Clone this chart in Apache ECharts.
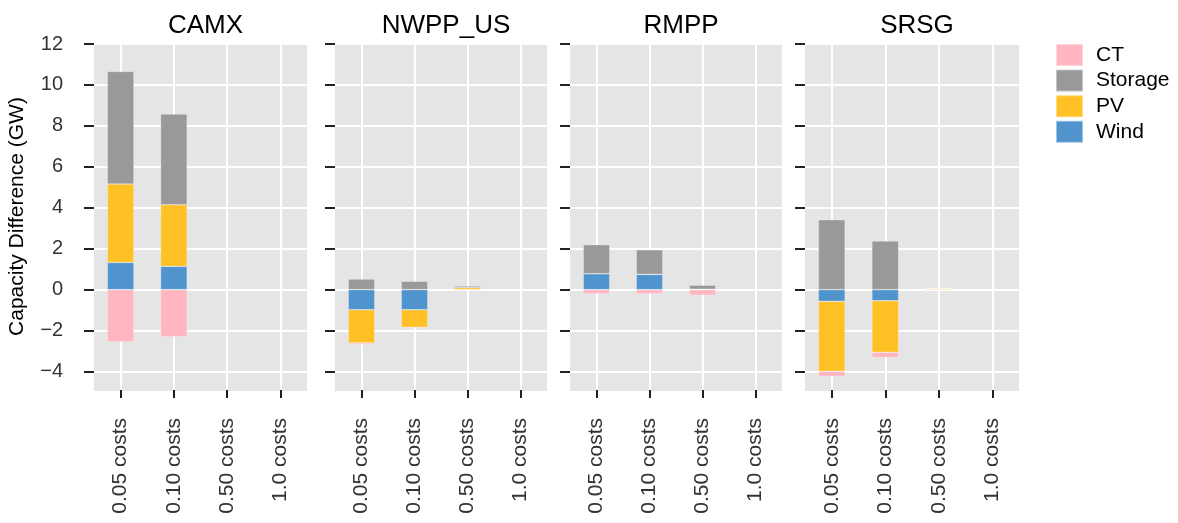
<!DOCTYPE html>
<html>
<head>
<meta charset="utf-8">
<script src="https://cdn.jsdelivr.net/npm/echarts@6/dist/echarts.min.js"></script>
<style>
html,body{margin:0;padding:0;background:#fff;}
#chart{width:1178px;height:523px;}
</style>
</head>
<body>
<div id="chart"></div>
<script>
const regions = ['CAMX', 'NWPP_US', 'RMPP', 'SRSG'];
const costLabels = ['0.05 costs', '0.10 costs', '0.50 costs', '1.0 costs'];
const yTicks = [-4, -2, 0, 2, 4, 6, 8, 10, 12];
const techNames = ['Wind', 'PV', 'Storage', 'CT'];
const legendOrder = ['CT', 'Storage', 'PV', 'Wind'];
// values per region, per cost level (GW)
const windVals = [[1.33, 1.14, 0, 0], [-0.98, -0.98, 0, 0], [0.78, 0.75, 0.02, 0], [-0.57, -0.54, 0, 0]];
const pvVals = [[3.83, 3.01, 0, 0], [-1.62, -0.86, 0.10, 0], [0, 0, 0, 0], [-3.42, -2.52, 0.05, 0]];
const storageVals = [[5.50, 4.43, 0, 0], [0.52, 0.41, 0.08, 0], [1.42, 1.20, 0.20, 0], [3.42, 2.38, 0.02, 0]];
const ctVals = [[-2.54, -2.30, 0, 0], [-0.08, -0.05, -0.04, 0], [-0.20, -0.20, -0.27, 0], [-0.24, -0.25, 0, 0]];

const colors = { CT: '#FFB6C1', Storage: '#999999', PV: '#FFC125', Wind: '#4F94CD' };
const valueSets = { Wind: windVals, PV: pvVals, Storage: storageVals, CT: ctVals };

const FONT = "'Liberation Sans', Arial, sans-serif";
const panelLeft = [94, 335, 570, 805];
const panelWidth = [213, 212, 212, 214];
const tickColors = ['#1c1c1c', '#222222', '#202020', '#242424'];
const TOP = 43, HEIGHT = 347;

const grids = [], xAxes = [], yAxes = [], series = [], titles = [];
regions.forEach((r, i) => {
  grids.push({ left: panelLeft[i], top: TOP, width: panelWidth[i], height: HEIGHT,
    show: true, backgroundColor: '#E5E5E5', borderWidth: 0, containLabel: false });
  titles.push({ text: r, left: panelLeft[i] + panelWidth[i] / 2, top: 8, textAlign: 'center',
    textStyle: { fontFamily: FONT, fontSize: 26, fontWeight: 'normal', color: '#000' } });
  xAxes.push({
    type: 'category', gridIndex: i, data: costLabels, boundaryGap: true,
    axisLine: { show: true, onZero: false, lineStyle: { color: '#E5E5E5' } },
    axisTick: { show: true, alignWithLabel: true, length: 8, lineStyle: { color: tickColors[i], width: 2 } },
    splitLine: { show: true, alignWithLabel: true, lineStyle: { color: '#fff', width: 2 } },
    axisLabel: { rotate: 90, margin: 28, fontFamily: FONT, fontSize: 21, color: '#333', interval: 0 }
  });
  yAxes.push({
    type: 'value', gridIndex: i, min: -4.9, max: 12.05,
    axisLine: { show: false },
    axisTick: { show: true, length: 10, customValues: yTicks, lineStyle: { color: '#222', width: 2 } },
    splitLine: { show: true, lineStyle: { color: '#fff', width: 2 } },
    axisLabel: { show: i === 0, customValues: yTicks, margin: 31, fontFamily: FONT, fontSize: 20, color: '#333',
      formatter: v => String(v).replace('-', '\u2212') },
    name: i === 0 ? 'Capacity Difference (GW)' : '',
    nameLocation: 'middle', nameRotate: 90, nameGap: 66,
    nameTextStyle: { fontFamily: FONT, fontSize: 21, color: '#000' }
  });
  techNames.forEach(t => {
    series.push({
      type: 'bar', name: t, xAxisIndex: i, yAxisIndex: i, stack: 'p' + i,
      barWidth: '50%', data: valueSets[t][i],
      itemStyle: { color: colors[t], borderColor: 'rgba(255,255,255,0.45)', borderWidth: 0.6 },
      emphasis: { disabled: true }
    });
  });
});

const chart = echarts.init(document.getElementById('chart'), null, { renderer: 'canvas' });
chart.setOption({
  animation: false,
  backgroundColor: '#fff',
  title: titles,
  grid: grids,
  xAxis: xAxes,
  yAxis: yAxes,
  legend: {
    orient: 'vertical', left: 1050, top: 38, data: legendOrder,
    itemWidth: 27, itemHeight: 22, itemGap: 1.6, icon: 'rect',
    textStyle: { fontFamily: FONT, fontSize: 21, color: '#000', padding: [0, 0, 0, 8] }
  },
  series: series
});
</script>
</body>
</html>
